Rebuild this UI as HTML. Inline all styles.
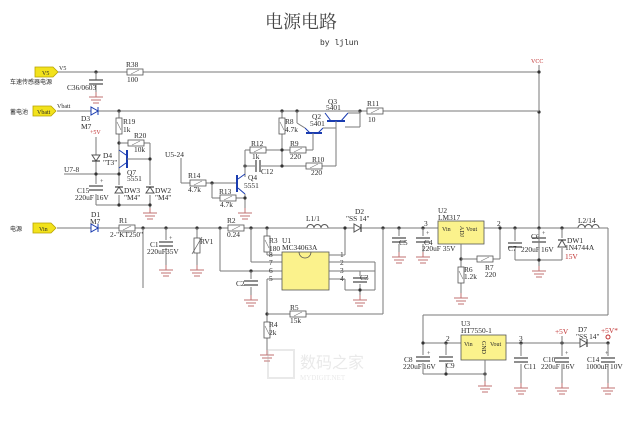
<!DOCTYPE html>
<html><head><meta charset="utf-8"><style>
html,body{margin:0;padding:0;background:#fff;}
svg{display:block;}
text{font-family:"Liberation Serif","Noto Serif CJK SC",serif;font-size:7.4px;fill:#2a2a2a;}
.w{stroke:#7a7a7a;stroke-width:1;fill:none;}
.r{fill:#fff;stroke:#555;stroke-width:0.8;}
.c{stroke:#444;stroke-width:1.2;}
.g{stroke:#c07070;stroke-width:1;}
.b{stroke:#1a3cb0;stroke-width:2;}
.bl{stroke:#1a3cb0;stroke-width:1;}
.red{fill:#c03030;}
.cn{font-family:"Liberation Sans","Noto Sans CJK SC",sans-serif;font-size:6px;}
</style></head><body>
<svg width="640" height="431" viewBox="0 0 640 431" xmlns="http://www.w3.org/2000/svg">
<defs>
<g id="gnd"><line class="g" x1="0" y1="0" x2="0" y2="5"/><line class="g" x1="-7" y1="5" x2="7" y2="5"/><line class="g" x1="-5" y1="8" x2="5" y2="8"/><line class="g" x1="-3" y1="11" x2="3" y2="11"/></g>
<g id="capv"><line class="c" x1="-7" y1="0" x2="7" y2="0"/><line class="c" x1="-7" y1="4" x2="7" y2="4"/></g>
<g id="rh"><rect class="r" x="0" y="-3" width="16" height="6"/><line stroke="#777" stroke-width="0.6" x1="4" y1="2" x2="12" y2="-2"/></g>
<g id="rv"><rect class="r" x="-3" y="0" width="6" height="16"/><line stroke="#777" stroke-width="0.6" x1="-2" y1="4" x2="2" y2="12"/></g>
<g id="flag"><polygon points="0,0 18,0 23,5 18,10 0,10" fill="#f2e21c" stroke="#b8a400" stroke-width="0.8"/></g>
<g id="dot"><circle r="1.6" fill="#333"/></g>
</defs>

<text x="265" y="28" style="font-size:18px;fill:#444">电源电路</text>
<text x="320" y="45" style="font-family:'Liberation Mono',monospace;font-size:8px">by ljlun</text>

<!-- V5 rail -->
<use href="#flag" x="35" y="67"/><text x="42" y="75" style="font-size:6px">V5</text>
<text x="59" y="70" style="font-size:6px">V5</text>
<text class="cn" x="10" y="84">车速传感器电源</text>
<line class="w" x1="58" y1="72" x2="539" y2="72"/>
<use href="#dot" x="96" y="72"/>
<line class="w" x1="96" y1="72" x2="96" y2="80"/><use href="#capv" x="96" y="80"/><line class="w" x1="96" y1="84" x2="96" y2="92"/><use href="#gnd" x="96" y="92"/>
<text x="67" y="90">C36/0603</text>
<use href="#rh" x="127" y="72"/><text x="126" y="67">R38</text><text x="127" y="82">100</text>
<text x="531" y="63" class="red" style="font-size:6px">VCC</text>
<line class="w" x1="539" y1="65" x2="539" y2="228"/><use href="#dot" x="539" y="72"/><use href="#dot" x="539" y="112"/>

<!-- Vbatt rail -->
<use href="#flag" x="33" y="106"/><text x="37" y="114" style="font-size:6px">Vbatt</text>
<text class="cn" x="10" y="114">蓄电池</text><text x="57" y="108" style="font-size:6px">Vbatt</text>
<line class="w" x1="57" y1="111" x2="539" y2="111"/>
<polygon points="91,107 91,115 98,111" fill="#fff" stroke="#1a3cb0"/><line class="bl" x1="98" y1="107" x2="98" y2="115"/>
<text x="81" y="121">D3</text><text x="81" y="129">M7</text>
<use href="#dot" x="119" y="111"/>
<line class="w" x1="119" y1="111" x2="119" y2="205"/>
<use href="#rv" x="119" y="118"/><text x="123" y="124">R19</text><text x="123" y="132">1k</text>
<text x="90" y="134" class="red" style="font-size:6px">+5V</text>
<use href="#dot" x="119" y="143"/><line class="w" x1="119" y1="143" x2="150" y2="143"/><line class="w" x1="150" y1="143" x2="150" y2="212"/>
<use href="#rh" x="128" y="143"/><text x="134" y="138">R20</text><text x="134" y="152">10k</text>
<line class="b" x1="127" y1="150" x2="127" y2="168"/><line class="w" x1="127" y1="159" x2="150" y2="159"/><use href="#dot" x="150" y="159"/>
<line class="bl" x1="126" y1="155" x2="119" y2="150"/><line class="bl" x1="126" y1="163" x2="119" y2="168"/>
<text x="127" y="175">Q7</text><text x="127" y="181">5551</text>
<line class="w" x1="96" y1="137" x2="96" y2="205"/>
<polygon points="92,155 100,155 96,161" fill="#fff" stroke="#555"/><line class="c" x1="92" y1="161" x2="100" y2="161"/>
<text x="103" y="158">D4</text><text x="103" y="165">"T3"</text>
<text x="64" y="172">U7-8</text><line class="w" x1="64" y1="174" x2="119" y2="174"/><use href="#dot" x="96" y="174"/><use href="#dot" x="119" y="174"/>
<rect x="89" y="184" width="14" height="10" fill="#fff"/><use href="#capv" x="96" y="186"/><text x="100" y="183" style="font-size:6px">+</text>
<text x="77" y="193">C15</text><text x="75" y="200">220uF</text><text x="96" y="200">16V</text>
<rect x="114" y="185" width="10" height="10" fill="#fff"/><polygon points="115,193 123,193 119,187" fill="#fff" stroke="#555"/><line class="c" x1="115" y1="187" x2="123" y2="187"/>
<text x="124" y="193">DW3</text><text x="124" y="200">"M4"</text>
<rect x="145" y="185" width="10" height="10" fill="#fff"/><polygon points="146,193 154,193 150,187" fill="#fff" stroke="#555"/><line class="c" x1="146" y1="187" x2="154" y2="187"/>
<text x="155" y="193">DW2</text><text x="155" y="200">"M4"</text>
<line class="w" x1="96" y1="205" x2="150" y2="205"/><use href="#dot" x="119" y="205"/><use href="#dot" x="150" y="205"/>
<use href="#gnd" x="150" y="208"/>

<!-- Q2/Q3 area -->
<use href="#dot" x="282" y="111"/><use href="#dot" x="297" y="111"/><use href="#dot" x="360" y="111"/>
<line class="w" x1="282" y1="111" x2="282" y2="166"/>
<use href="#rv" x="282" y="118"/><text x="285" y="124">R8</text><text x="285" y="132">4.7k</text>
<line class="w" x1="297" y1="111" x2="297" y2="123"/><line class="w" x1="297" y1="123" x2="305" y2="128"/>
<line class="b" x1="306" y1="133" x2="322" y2="133"/>
<line class="bl" x1="310" y1="133" x2="305" y2="128"/><line class="bl" x1="318" y1="133" x2="323" y2="128"/><line class="w" x1="323" y1="128" x2="336" y2="128"/>
<line class="w" x1="313" y1="133" x2="313" y2="150"/>
<text x="312" y="119">Q2</text><text x="310" y="126">5401</text>
<line class="b" x1="327" y1="121" x2="345" y2="121"/>
<line class="bl" x1="331" y1="121" x2="325" y2="113"/><line class="bl" x1="341" y1="121" x2="348" y2="113"/>
<line class="w" x1="348" y1="113" x2="360" y2="113"/><line class="w" x1="360" y1="111" x2="360" y2="127"/><line class="w" x1="345" y1="127" x2="360" y2="127"/>
<line class="w" x1="336" y1="121" x2="336" y2="166"/>
<text x="328" y="104">Q3</text><text x="326" y="110">5401</text>
<use href="#rh" x="367" y="111"/><text x="367" y="106">R11</text><text x="368" y="122">10</text>
<line class="w" x1="245" y1="150" x2="313" y2="150"/><use href="#dot" x="282" y="150"/>
<use href="#rh" x="250" y="150"/><text x="251" y="146">R12</text><text x="252" y="159">1k</text>
<use href="#rh" x="290" y="150"/><text x="290" y="146">R9</text><text x="290" y="159">220</text>
<line class="w" x1="245" y1="166" x2="336" y2="166"/><use href="#dot" x="245" y="166"/><use href="#dot" x="282" y="166"/>
<rect x="255" y="160" width="6" height="12" fill="#fff"/><line class="c" x1="256" y1="160" x2="256" y2="172"/><line class="c" x1="260" y1="160" x2="260" y2="172"/>
<text x="261" y="174">C12</text>
<use href="#rh" x="306" y="166"/><text x="312" y="162">R10</text><text x="311" y="175">220</text>
<line class="w" x1="245" y1="150" x2="245" y2="177"/>
<text x="165" y="157">U5-24</text>
<line class="w" x1="181" y1="158" x2="181" y2="183"/><line class="w" x1="181" y1="183" x2="237" y2="183"/>
<use href="#rh" x="190" y="183"/><text x="188" y="178">R14</text><text x="188" y="192">4.7k</text>
<use href="#dot" x="212" y="183"/><line class="w" x1="212" y1="183" x2="212" y2="198"/><line class="w" x1="212" y1="198" x2="245" y2="198"/>
<use href="#rh" x="220" y="198"/><text x="219" y="194">R13</text><text x="220" y="207">4.7k</text>
<line class="b" x1="237" y1="175" x2="237" y2="192"/>
<line class="bl" x1="238" y1="179" x2="245" y2="174"/><line class="bl" x1="238" y1="188" x2="245" y2="194"/>
<line class="w" x1="245" y1="194" x2="245" y2="208"/><use href="#dot" x="245" y="198"/><use href="#gnd" x="245" y="208"/>
<text x="248" y="180">Q4</text><text x="244" y="188">5551</text>

<!-- Vin rail -->
<use href="#flag" x="33" y="223"/><text x="39" y="231" style="font-size:6px">Vin</text>
<text class="cn" x="10" y="231">电源</text>
<line class="w" x1="57" y1="228" x2="608" y2="228"/>
<polygon points="91,224 91,232 98,228" fill="#fff" stroke="#1a3cb0"/><line class="bl" x1="98" y1="224" x2="98" y2="232"/>
<text x="91" y="217">D1</text><text x="90" y="224">M7</text>
<use href="#rh" x="119" y="228"/><text x="119" y="223">R1</text><text x="110" y="237">2-"KT250"</text>
<use href="#dot" x="143" y="228"/><line class="w" x1="143" y1="228" x2="143" y2="288"/>
<use href="#dot" x="166" y="228"/><line class="w" x1="166" y1="228" x2="166" y2="268"/>
<rect x="158" y="240" width="16" height="8" fill="#fff"/><use href="#capv" x="166" y="242"/><text x="169" y="240" style="font-size:6px">+</text>
<text x="150" y="247">C1</text><text x="147" y="254">220uF</text><text x="166" y="254">35V</text><use href="#gnd" x="166" y="265"/>
<use href="#dot" x="197" y="228"/><line class="w" x1="197" y1="228" x2="197" y2="268"/>
<rect x="194" y="238" width="6" height="15" class="r"/><line stroke="#555" stroke-width="0.7" x1="192" y1="254" x2="202" y2="237"/>
<text x="200" y="244">RV1</text><use href="#gnd" x="197" y="265"/>
<use href="#dot" x="220" y="228"/><line class="w" x1="220" y1="228" x2="220" y2="271"/><line class="w" x1="220" y1="271" x2="282" y2="271"/>
<use href="#rh" x="228" y="228"/><text x="227" y="223">R2</text><text x="227" y="237">0.24</text>
<use href="#dot" x="251" y="228"/><line class="w" x1="251" y1="228" x2="251" y2="262"/><line class="w" x1="251" y1="262" x2="282" y2="262"/>
<use href="#dot" x="267" y="228"/><line class="w" x1="267" y1="228" x2="267" y2="255"/><line class="w" x1="267" y1="255" x2="282" y2="255"/>
<use href="#rv" x="267" y="236"/><text x="269" y="243">R3</text><text x="269" y="251">180</text>
<use href="#dot" x="251" y="271"/><line class="w" x1="251" y1="271" x2="251" y2="295"/><rect x="243" y="279" width="16" height="8" fill="#fff"/><use href="#capv" x="251" y="281"/>
<text x="236" y="286">C2</text><use href="#gnd" x="251" y="295"/>
<line class="w" x1="267" y1="279" x2="282" y2="279"/><line class="w" x1="267" y1="279" x2="267" y2="352"/><use href="#dot" x="267" y="314"/>
<line class="w" x1="267" y1="314" x2="383" y2="314"/><use href="#rh" x="290" y="314"/><text x="290" y="310">R5</text><text x="290" y="323">15k</text>
<use href="#rv" x="267" y="322"/><text x="269" y="327">R4</text><text x="269" y="335">2k</text><use href="#gnd" x="267" y="350"/>
<rect x="282" y="252" width="47" height="38" fill="#fbf28c" stroke="#555" stroke-width="0.8"/>
<path d="M299,252 a6,6 0 0 0 12,0" fill="none" stroke="#555" stroke-width="0.8"/>
<text x="282" y="243">U1</text><text x="282" y="250">MC34063A</text>
<text x="269" y="257">8</text><text x="269" y="265">7</text><text x="269" y="273">6</text><text x="269" y="281">5</text>
<text x="340" y="257">1</text><text x="340" y="265">2</text><text x="340" y="273">3</text><text x="340" y="281">4</text>
<line class="w" x1="329" y1="255" x2="345" y2="255"/><line class="w" x1="345" y1="228" x2="345" y2="255"/><use href="#dot" x="345" y="228"/>
<line class="w" x1="329" y1="262" x2="375" y2="262"/><line class="w" x1="329" y1="271" x2="375" y2="271"/><line class="w" x1="375" y1="262" x2="375" y2="290"/>
<line class="w" x1="329" y1="279" x2="345" y2="279"/><line class="w" x1="345" y1="279" x2="345" y2="290"/><line class="w" x1="345" y1="290" x2="375" y2="290"/>
<line class="w" x1="360" y1="271" x2="360" y2="297"/><rect x="353" y="276" width="14" height="8" fill="#fff"/><use href="#capv" x="360" y="278"/><text x="360" y="280">C3</text>
<use href="#dot" x="360" y="290"/><use href="#gnd" x="360" y="295"/>
<path d="M307,228 a3.5,3.5 0 0 1 7,0 a3.5,3.5 0 0 1 7,0 a3.5,3.5 0 0 1 7,0" stroke="#555" fill="#fff"/>
<rect x="306" y="229" width="24" height="2" fill="#fff"/>
<text x="306" y="221">L1/1</text>
<polygon points="354,224 354,232 361,228" fill="#fff" stroke="#555"/><line class="c" x1="361" y1="224" x2="361" y2="232"/>
<text x="355" y="214">D2</text><text x="346" y="221">"SS 14"</text>
<use href="#dot" x="383" y="228"/><line class="w" x1="383" y1="228" x2="383" y2="314"/>
<use href="#dot" x="399" y="228"/><line class="w" x1="399" y1="228" x2="399" y2="255"/><rect x="391" y="236" width="16" height="8" fill="#fff"/><use href="#capv" x="399" y="238"/>
<text x="399" y="245">C5</text><use href="#gnd" x="399" y="252"/>
<use href="#dot" x="423" y="228"/><line class="w" x1="423" y1="228" x2="423" y2="255"/><rect x="415" y="236" width="16" height="8" fill="#fff"/><use href="#capv" x="423" y="238"/><text x="426" y="235" style="font-size:6px">+</text>
<text x="424" y="245">C4</text><text x="422" y="251">220uF 35V</text><use href="#gnd" x="423" y="252"/>
<text x="424" y="226">3</text>
<rect x="438" y="221" width="46" height="23" fill="#fbf28c" stroke="#555" stroke-width="0.8"/>
<text x="442" y="231" style="font-size:6px">Vin</text><text x="466" y="231" style="font-size:6px">Vout</text>
<text x="460" y="226" transform="rotate(90 460 226)" style="font-size:6px">ADJ</text>
<text x="438" y="213">U2</text><text x="438" y="220">LM317</text>
<line class="w" x1="461" y1="244" x2="461" y2="295"/><use href="#dot" x="461" y="259"/>
<line class="w" x1="461" y1="259" x2="500" y2="259"/><line class="w" x1="500" y1="228" x2="500" y2="259"/><use href="#dot" x="500" y="228"/>
<use href="#rh" x="477" y="259"/><text x="485" y="270">R7</text><text x="485" y="277">220</text>
<use href="#rv" x="461" y="267"/><text x="464" y="272">R6</text><text x="464" y="279">1.2k</text><use href="#gnd" x="461" y="293"/>
<text x="497" y="226">2</text>
<use href="#dot" x="515" y="228"/><line class="w" x1="515" y1="228" x2="515" y2="260"/><rect x="507" y="241" width="16" height="8" fill="#fff"/><use href="#capv" x="515" y="243"/><text x="508" y="251">C7</text>
<rect x="531" y="236" width="16" height="8" fill="#fff"/><use href="#capv" x="539" y="238"/><text x="542" y="235" style="font-size:6px">+</text>
<text x="531" y="239">C6</text><text x="521" y="252">220uF</text><text x="541" y="252">16V</text>
<use href="#dot" x="539" y="228"/><line class="w" x1="539" y1="228" x2="539" y2="266"/>
<use href="#dot" x="562" y="228"/><line class="w" x1="562" y1="228" x2="562" y2="260"/>
<rect x="557" y="238" width="10" height="10" fill="#fff"/><polygon points="558,247 566,247 562,240" fill="#fff" stroke="#555"/><line class="c" x1="558" y1="240" x2="566" y2="240"/>
<text x="567" y="243">DW1</text><text x="565" y="250">1N4744A</text><text x="565" y="259" class="red">15V</text>
<line class="w" x1="515" y1="260" x2="562" y2="260"/><use href="#dot" x="539" y="260"/><use href="#gnd" x="539" y="266"/>
<path d="M578,228 a3.5,3.5 0 0 1 7,0 a3.5,3.5 0 0 1 7,0 a3.5,3.5 0 0 1 7,0" fill="#fff" stroke="#555"/>
<rect x="577" y="229" width="24" height="2" fill="#fff"/>
<text x="578" y="223">L2/14</text>
<line class="w" x1="608" y1="228" x2="608" y2="315"/><line class="w" x1="423" y1="315" x2="608" y2="315"/>
<line class="w" x1="423" y1="315" x2="423" y2="374"/>

<!-- HT7550 -->
<line class="w" x1="423" y1="343" x2="461" y2="343"/><line class="w" x1="506" y1="343" x2="608" y2="343"/>
<use href="#dot" x="423" y="343"/><use href="#dot" x="446" y="343"/><use href="#dot" x="521" y="343"/><use href="#dot" x="562" y="343"/><use href="#dot" x="608" y="343"/>
<rect x="461" y="335" width="45" height="25" fill="#fbf28c" stroke="#555" stroke-width="0.8"/>
<text x="464" y="346" style="font-size:6px">Vin</text><text x="490" y="346" style="font-size:6px">Vout</text>
<text x="482" y="341" transform="rotate(90 482 341)" style="font-size:6px">GND</text>
<text x="461" y="326">U3</text><text x="461" y="333">HT7550-1</text>
<text x="446" y="341">2</text><text x="519" y="341">3</text>
<rect x="415" y="355" width="16" height="8" fill="#fff"/><use href="#capv" x="423" y="357"/><text x="427" y="355" style="font-size:6px">+</text>
<text x="404" y="362">C8</text><text x="403" y="369">220uF</text><text x="423" y="369">16V</text>
<line class="w" x1="446" y1="343" x2="446" y2="374"/><rect x="438" y="355" width="16" height="8" fill="#fff"/><use href="#capv" x="446" y="357"/><text x="446" y="368">C9</text>
<line class="w" x1="423" y1="374" x2="485" y2="374"/><use href="#dot" x="446" y="374"/><use href="#dot" x="485" y="374"/>
<line class="w" x1="485" y1="360" x2="485" y2="381"/><use href="#gnd" x="485" y="381"/>
<line class="w" x1="521" y1="343" x2="521" y2="383"/><rect x="513" y="356" width="16" height="8" fill="#fff"/><use href="#capv" x="521" y="358"/><text x="524" y="369">C11</text><use href="#gnd" x="521" y="383"/>
<line class="w" x1="562" y1="336" x2="562" y2="383"/><rect x="554" y="356" width="16" height="8" fill="#fff"/><use href="#capv" x="562" y="358"/><text x="565" y="355" style="font-size:6px">+</text>
<text x="543" y="362">C10</text><text x="541" y="369">220uF</text><text x="562" y="369">16V</text><use href="#gnd" x="562" y="383"/>
<text x="555" y="334" class="red">+5V</text>
<polygon points="580,339 580,347 587,343" fill="#fff" stroke="#555"/><line class="c" x1="587" y1="339" x2="587" y2="347"/>
<text x="578" y="332">D7</text><text x="576" y="339">"SS 14"</text>
<text x="601" y="333" class="red">+5V*</text><circle cx="608" cy="337" r="2" fill="none" stroke="#c03030"/>
<line class="w" x1="608" y1="343" x2="608" y2="383"/><rect x="600" y="356" width="16" height="8" fill="#fff"/><use href="#capv" x="608" y="358"/><text x="605" y="355" style="font-size:6px">+</text>
<text x="587" y="362">C14</text><text x="586" y="369">1000uF</text><text x="610" y="369">10V</text><use href="#gnd" x="608" y="383"/>

<!-- watermark -->
<g opacity="0.25">
<rect x="268" y="350" width="26" height="28" fill="none" stroke="#aaa" stroke-width="2"/>
<text x="300" y="368" class="cn" style="font-size:16px;fill:#aaa">数码之家</text>
<text x="300" y="380" style="font-size:7px;fill:#aaa">MYDIGIT.NET</text>
</g>
</svg>
</body></html>
